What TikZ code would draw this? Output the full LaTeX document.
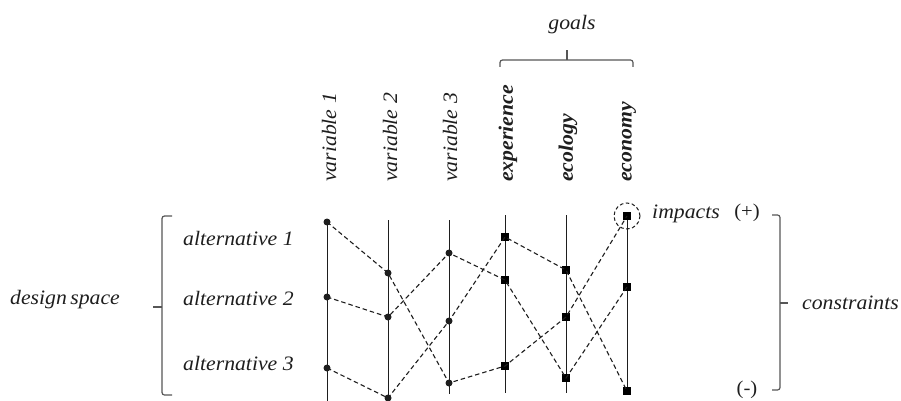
\documentclass[tikz,border=0pt]{standalone}
\usepackage{fontspec}
\setmainfont{Liberation Serif}[FakeStretch=1.06]
\usetikzlibrary{calc}
\definecolor{ink}{HTML}{1E1E1E}
\begin{document}
\begin{tikzpicture}[x=1pt,y=-1pt,
  lbl/.style={font=\fontsize{20.5}{24}\selectfont\itshape, text=ink, inner sep=0pt},
  var/.style={lbl, rotate=90, anchor=west},
  goal/.style={var, font=\fontsize{20.5}{24}\selectfont\bfseries\itshape},
  axis/.style={draw=ink, line width=1pt},
  link/.style={draw=ink, line width=1.1pt, dash pattern=on 4.5pt off 3pt},
  dot/.style={circle, fill=ink, inner sep=0pt, minimum size=7pt},
  sq/.style={rectangle, fill=black, inner sep=0pt, minimum size=8pt},
  brk/.style={draw=ink!75, line width=1.2pt, rounded corners=2.5pt}]
\useasboundingbox (0,0) rectangle (901,401);

% column headers
\node[var] (h1) at (329,182) {variable 1};
\node[var] (h2) at (390,182) {variable 2};
\node[var] (h3) at (450,182) {variable 3};
\node[goal] (h4) at (508,182) {experience};
\node[goal] (h5) at (568,182) {ecology};
\node[goal] (h6) at (629,182) {economy};

% goals brace
\coordinate (gl) at (500,67);
\coordinate (gr) at (633,67);
\coordinate (gm) at (567,60);
\coordinate (gt) at (567,50);
\draw[brk] (gl) -- (500,60) -- (633,60) -- (gr);
\draw[brk] (gm) -- (gt);
\node[lbl] (goals) at (572,25) {goals};

% vertical axes
\coordinate (t1) at (327,222); \coordinate (b1) at (327,401);
\coordinate (t2) at (388,220); \coordinate (b2) at (388,398);
\coordinate (t3) at (449,220); \coordinate (b3) at (449,394);
\coordinate (t4) at (505,215); \coordinate (b4) at (505,393);
\coordinate (t5) at (566,215); \coordinate (b5) at (566,393);
\coordinate (t6) at (627,216); \coordinate (b6) at (627,391);
\foreach \i in {1,...,6} \draw[axis] (t\i) -- (b\i);

% values of alternative 1
\node[dot] (a1v1) at (327,222) {};
\node[dot] (a1v2) at (388,273) {};
\node[dot] (a1v3) at (449,383) {};
\node[sq]  (a1v4) at (505,366) {};
\node[sq]  (a1v5) at (566,317) {};
\node[sq]  (a1v6) at (627,216) {};
% values of alternative 2
\node[dot] (a2v1) at (327,297) {};
\node[dot] (a2v2) at (388,317) {};
\node[dot] (a2v3) at (449,253) {};
\node[sq]  (a2v4) at (505,280) {};
\node[sq]  (a2v5) at (566,378) {};
\node[sq]  (a2v6) at (627,287) {};
% values of alternative 3
\node[dot] (a3v1) at (327,368) {};
\node[dot] (a3v2) at (388,398) {};
\node[dot] (a3v3) at (449,321) {};
\node[sq]  (a3v4) at (505,237) {};
\node[sq]  (a3v5) at (566,270) {};
\node[sq]  (a3v6) at (627,391) {};

\foreach \a in {1,2,3}
  \draw[link] (a\a v1.center) -- (a\a v2.center) -- (a\a v3.center)
     -- (a\a v4.center) -- (a\a v5.center) -- (a\a v6.center);

% highlighted impact
\node[circle, draw=ink, line width=1pt, dash pattern=on 3.5pt off 2.5pt,
      minimum size=26pt, inner sep=0pt] (ring) at (a1v6) {};
\node[lbl, anchor=west] (imp) at (652,214) {impacts};
\node[lbl, font=\fontsize{19.5}{22}\selectfont] (plus) at (747,213) {(+)};
\node[lbl, font=\fontsize{19.5}{22}\selectfont] (minus) at (747,390) {(-)};

% alternatives and design space
\node[lbl, anchor=west] (alt1) at (183,238) {alternative 1};
\node[lbl, anchor=west] (alt2) at (183,298) {alternative 2};
\node[lbl, anchor=west] (alt3) at (183,363) {alternative 3};
\node[lbl, anchor=west] (ds) at (10,300) {design\,space};
\coordinate (dl) at (153,307);
\coordinate (dm) at (162,307);
\draw[brk] (172,216) -- (162,216) -- (162,395) -- (172,395);
\draw[brk] (dl) -- (dm);

% constraints bracket
\coordinate (cm) at (780,303);
\coordinate (cr) at (788,303);
\draw[brk] (772,215) -- (780,215) -- (780,390) -- (772,390);
\draw[brk] (cm) -- (cr);
\node[lbl, anchor=west] (con) at (802,303) {constraints};
\end{tikzpicture}
\end{document}
